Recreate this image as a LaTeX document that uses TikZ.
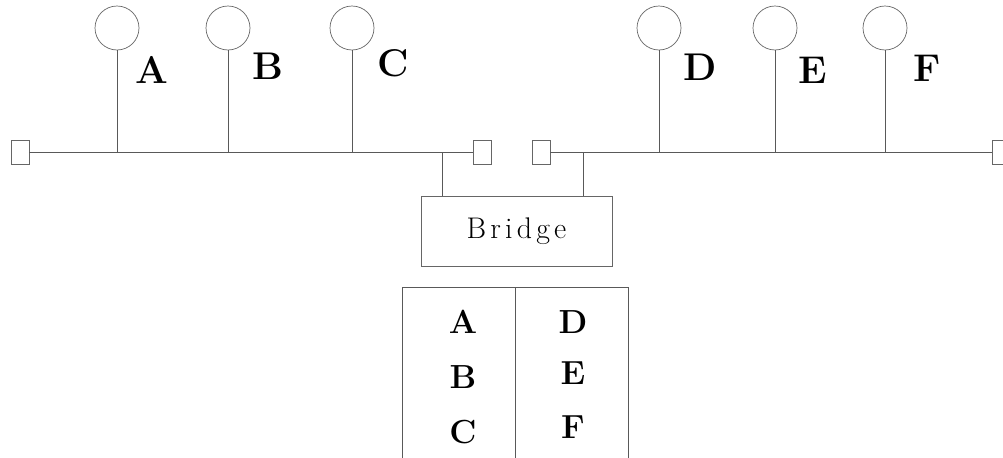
\documentclass[tikz,border=0pt]{standalone}
\usepackage{fontspec}
\tikzset{
  station/.style={circle, draw=black!60, inner sep=0pt, minimum size=0.88cm},
  term/.style={rectangle, draw=black!60, inner sep=0pt, minimum width=0.36cm, minimum height=0.48cm},
  lbl/.style={font=\fontsize{22}{22}\selectfont\bfseries},
  entry/.style={font=\fontsize{19}{19}\selectfont\bfseries},
  wire/.style={draw=black!65, line width=0.5pt}
}
\newcommand\gapk{\kern2.4pt}
\begin{document}
\begin{tikzpicture}[x=0.02cm, y=-0.02cm]
      \useasboundingbox (0,0) rectangle (1003,457);
      \draw
        (117,28) node[station] (A){}
        (228,28) node[station] (B){}
        (352,28) node[station] (C){}
        (659,28) node[station] (D){}
        (775,28) node[station] (E){}
        (885,28) node[station] (F){}
        (20,152) node[term] (t1){}
        (482,152) node[term] (t2){}
        (541,152) node[term] (t3){}
        (1001,152) node[term] (t4){};
      \draw
        (152,70) node[lbl] (lA){A}
        (268,66) node[lbl] (lB){B}
        (393,63) node[lbl] (lC){C}
        (700,67) node[lbl] (lD){D}
        (813,70) node[lbl] (lE){E}
        (927,68) node[lbl] (lF){F};
      \node[draw=black!60, minimum width=3.82cm, minimum height=1.4cm,
        font=\fontsize{17}{17}\selectfont]
        (bridge) at (516.5,231) {B\gapk r\gapk i\gapk d\gapk g\gapk e};
      \coordinate (jL) at (442,152);
      \coordinate (jR) at (583,152);
      \begin{scope}[wire]
        \draw (t1) to (t2);
        \draw (t3) to (t4);
        \draw (A) to (A |- t1);
        \draw (B) to (B |- t1);
        \draw (C) to (C |- t1);
        \draw (D) to (D |- t3);
        \draw (E) to (E |- t3);
        \draw (F) to (F |- t3);
        \draw (jL) to (jL |- bridge.north);
        \draw (jR) to (jR |- bridge.north);
      \end{scope}
      % table of stations on each side
      \coordinate (tl) at (402,287);
      \coordinate (tm) at (515,287);
      \coordinate (tr) at (628,287);
      \begin{scope}[wire]
        \draw (402,460) -- (tl) -- (tr) -- (628,460);
        \draw (tm) -- (515,460);
      \end{scope}
      \draw
        (463,322) node[entry] (eA){A}
        (463,377) node[entry] (eB){B}
        (463,432) node[entry] (eC){C}
        (573,322) node[entry] (eD){D}
        (573,373) node[entry] (eE){E}
        (573,427) node[entry] (eF){F};
    \end{tikzpicture}
\end{document}
